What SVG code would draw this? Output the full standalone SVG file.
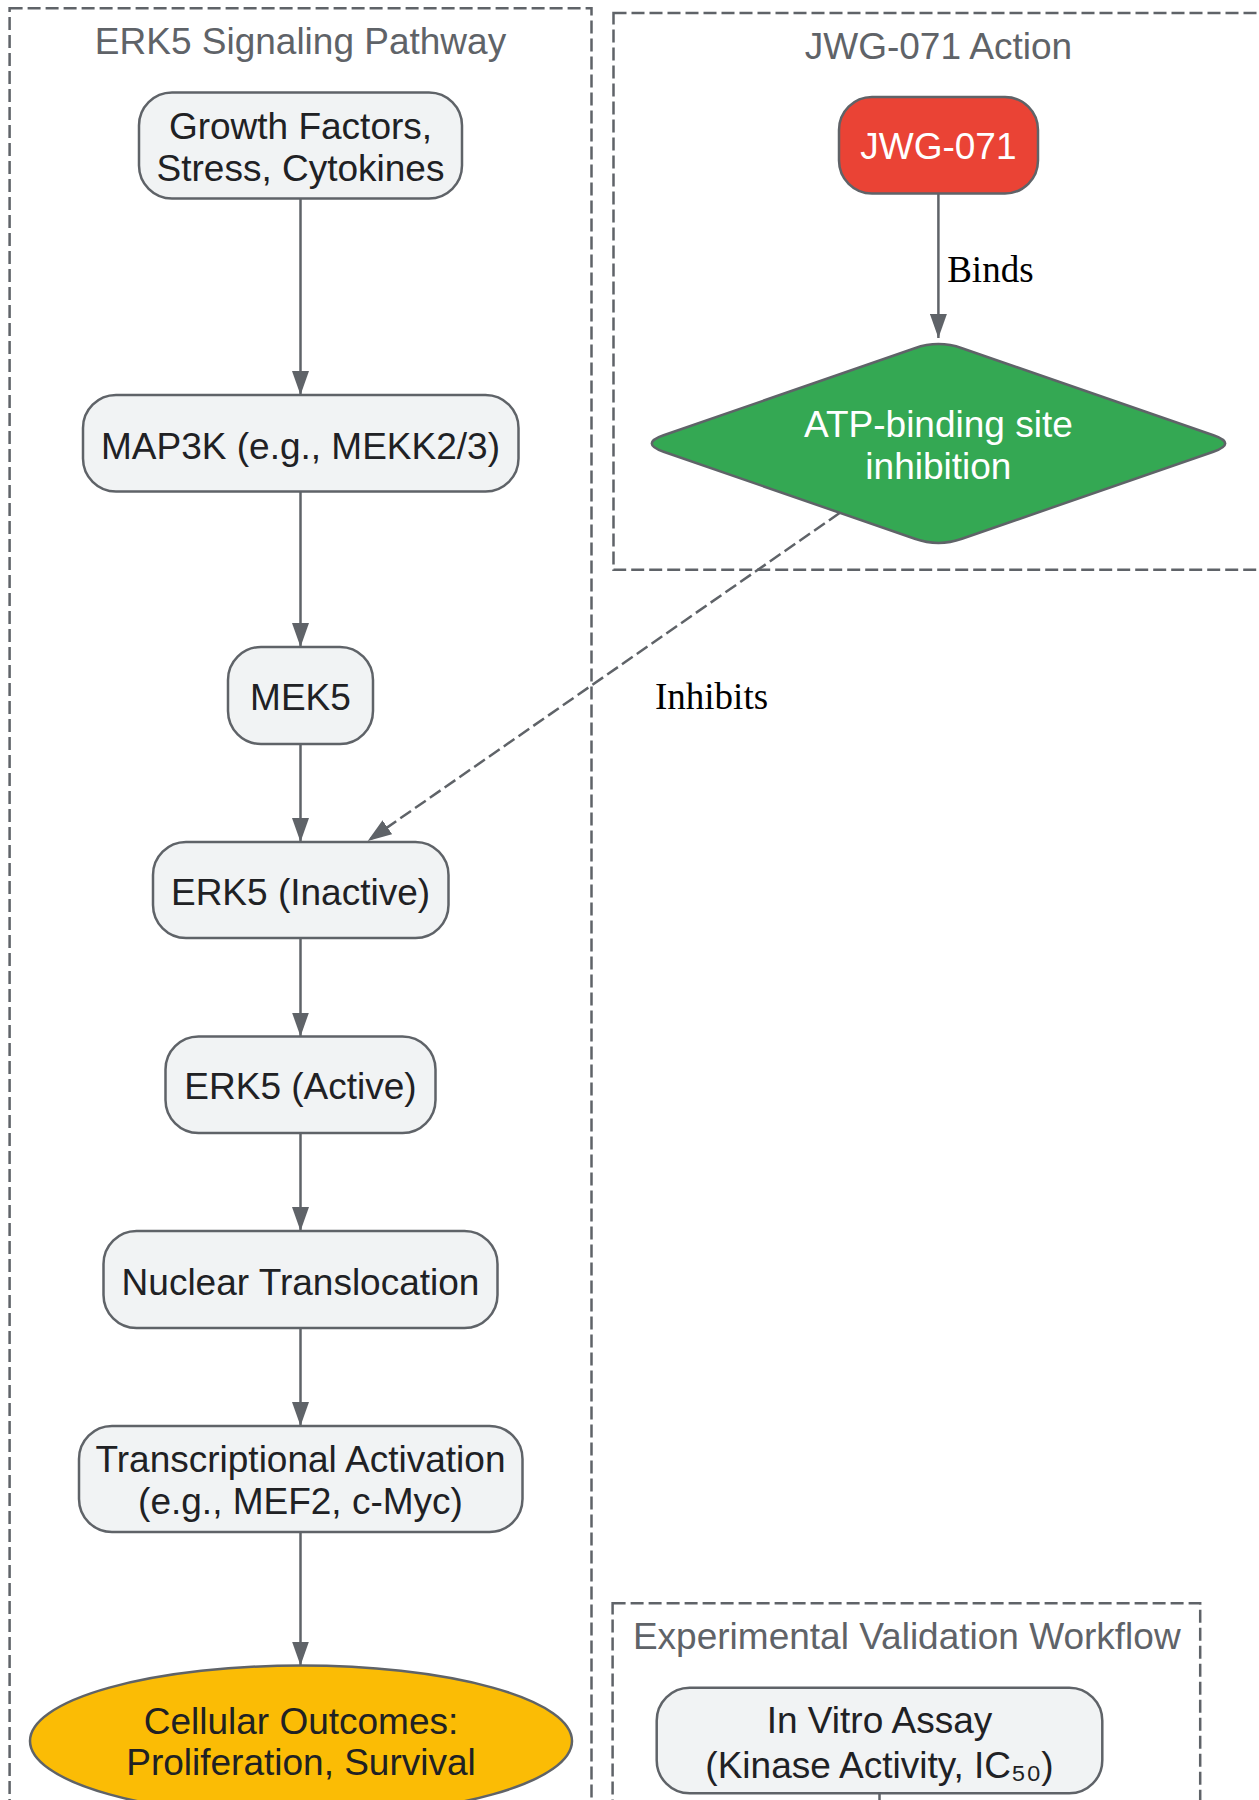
<svg xmlns="http://www.w3.org/2000/svg" width="1259" height="1800" viewBox="0 0 1259 1800">
<defs>
<style>
.cluster{fill:none;stroke:#5f6368;stroke-width:2.5;stroke-dasharray:13,5}
.ctitle{font-family:"Liberation Sans",Arial,sans-serif;font-size:37px;fill:#5f6368;text-anchor:middle}
.node{fill:#f1f3f4;stroke:#5f6368;stroke-width:2.5}
.ntext{font-family:"Liberation Sans",Arial,sans-serif;font-size:37px;fill:#202124;text-anchor:middle}
.wtext{font-family:"Liberation Sans",Arial,sans-serif;font-size:37px;fill:#ffffff;text-anchor:middle}
.edge{fill:none;stroke:#5f6368;stroke-width:2.5}
.dashed{stroke-dasharray:13,5}
.elabel{font-family:"Liberation Serif","Times New Roman",serif;font-size:37px;fill:#000000}
</style>
<marker id="arrow" viewBox="0 0 24 17" refX="24" refY="8.5" markerWidth="24" markerHeight="17" markerUnits="userSpaceOnUse" orient="auto">
<path d="M0,0 L24,8.5 L0,17 Z" fill="#5f6368"/>
</marker>
</defs>
<rect width="1259" height="1800" fill="#ffffff"/>

<g id="cluster_erk5">
<rect class="cluster" x="9.6" y="8.3" width="581.9" height="1850"/>
<text class="ctitle" x="300.5" y="54.3">ERK5 Signaling Pathway</text>
</g>
<g id="cluster_jwg">
<rect class="cluster" x="613.5" y="13" width="700" height="556.7"/>
<text class="ctitle" x="938.4" y="59.2">JWG-071 Action</text>
</g>
<g id="cluster_exp">
<rect class="cluster" x="612.6" y="1603.3" width="587.6" height="300"/>
<text class="ctitle" x="906.8" y="1649.3">Experimental Validation Workflow</text>
</g>

<g id="edges">
<line class="edge" x1="300.5" y1="198.5" x2="300.5" y2="395" marker-end="url(#arrow)"/>
<line class="edge" x1="300.5" y1="491.5" x2="300.5" y2="647" marker-end="url(#arrow)"/>
<line class="edge" x1="300.5" y1="744" x2="300.5" y2="842" marker-end="url(#arrow)"/>
<line class="edge" x1="300.5" y1="938" x2="300.5" y2="1036.5" marker-end="url(#arrow)"/>
<line class="edge" x1="300.5" y1="1133" x2="300.5" y2="1231" marker-end="url(#arrow)"/>
<line class="edge" x1="300.5" y1="1328" x2="300.5" y2="1426" marker-end="url(#arrow)"/>
<line class="edge" x1="300.5" y1="1532" x2="300.5" y2="1665.5" marker-end="url(#arrow)"/>
<line class="edge" x1="938.4" y1="193.5" x2="938.4" y2="338" marker-end="url(#arrow)"/>
<text class="elabel" x="947.2" y="281.9">Binds</text>
<line class="edge dashed" x1="839.6" y1="513" x2="367.7" y2="841" marker-end="url(#arrow)"/>
<text class="elabel" x="655" y="709">Inhibits</text>
<line class="edge" x1="879.5" y1="1793.3" x2="879.5" y2="1830"/>
</g>

<g id="growth">
<rect class="node" x="139" y="92.5" width="323" height="106" rx="33" ry="33"/>
<text class="ntext" x="300.5" y="139.3">Growth Factors,</text>
<text class="ntext" x="300.5" y="181">Stress, Cytokines</text>
</g>
<g id="map3k">
<rect class="node" x="83" y="395" width="435.5" height="96.5" rx="33" ry="33"/>
<text class="ntext" x="300.5" y="459.3">MAP3K (e.g., MEKK2/3)</text>
</g>
<g id="mek5">
<rect class="node" x="228" y="647" width="145" height="97" rx="33" ry="33"/>
<text class="ntext" x="300.5" y="710.1">MEK5</text>
</g>
<g id="erk5_inactive">
<rect class="node" x="153" y="842" width="295.5" height="96" rx="33" ry="33"/>
<text class="ntext" x="300.5" y="905.3">ERK5 (Inactive)</text>
</g>
<g id="erk5_active">
<rect class="node" x="165.5" y="1036.5" width="270" height="96.5" rx="33" ry="33"/>
<text class="ntext" x="300.5" y="1099">ERK5 (Active)</text>
</g>
<g id="nuclear">
<rect class="node" x="103.5" y="1231" width="394" height="97" rx="33" ry="33"/>
<text class="ntext" x="300.5" y="1294.7">Nuclear Translocation</text>
</g>
<g id="transcription">
<rect class="node" x="79" y="1426" width="443.5" height="106" rx="33" ry="33"/>
<text class="ntext" x="300.5" y="1471.8">Transcriptional Activation</text>
<text class="ntext" x="300.5" y="1514.1">(e.g., MEF2, c-Myc)</text>
</g>
<g id="outcomes">
<ellipse cx="301" cy="1741" rx="271" ry="75.5" fill="#fbbc05" stroke="#5f6368" stroke-width="2.5"/>
<text class="ntext" x="301" y="1733.6">Cellular Outcomes:</text>
<text class="ntext" x="301" y="1775">Proliferation, Survival</text>
</g>

<g id="jwg071">
<rect x="839" y="97" width="199" height="96.5" rx="33" ry="33" fill="#ea4335" stroke="#5f6368" stroke-width="2.5"/>
<text class="wtext" x="938.4" y="159.1">JWG-071</text>
</g>
<g id="atp_site">
<path d="M663.6,435.3 L914.8,348.2 Q938.4,340 962,348.2 L1213.4,435.3 Q1237,443.5 1213.4,451.7 L962,538.8 Q938.4,547 914.8,538.8 L663.6,451.7 Q640,443.5 663.6,435.3 Z" fill="#34a853" stroke="#5f6368" stroke-width="2.5"/>
<text class="wtext" x="938.4" y="436.6">ATP-binding site</text>
<text class="wtext" x="938.4" y="479.1">inhibition</text>
</g>

<g id="in_vitro">
<rect class="node" x="656.7" y="1687.7" width="445.6" height="105.6" rx="33" ry="33"/>
<text class="ntext" x="879.5" y="1733.3">In Vitro Assay</text>
<text class="ntext" x="879.5" y="1778.3">(Kinase Activity, IC₅₀)</text>
</g>
</svg>
